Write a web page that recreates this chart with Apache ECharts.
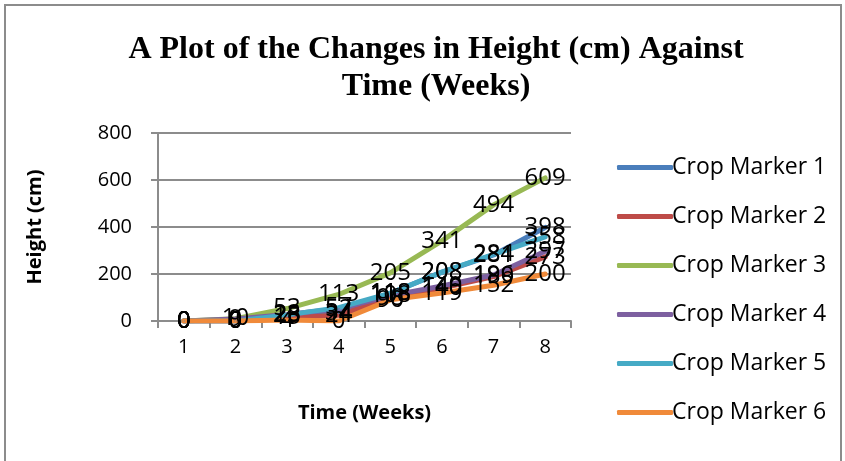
<!DOCTYPE html>
<html>
<head>
<meta charset="utf-8">
<script src="https://cdn.jsdelivr.net/npm/echarts@6/dist/echarts.min.js"></script>
<style>
  html, body { margin: 0; padding: 0; background: #fff; }
  #frame { position: absolute; left: 4px; top: 4px; width: 838px; height: 470px; border: 2px solid #8c8c8c; box-sizing: border-box; }
  #chart { position: absolute; left: 0; top: 0; width: 845px; height: 461px; }
</style>
</head>
<body>
<div id="frame"></div>
<div id="chart"></div>
<script>
// Weeks on the x axis
const weeks = ['1', '2', '3', '4', '5', '6', '7', '8'];

// Plant height (cm) per crop marker, week 1 to week 8
const crop1 = [0, 0, 23, 34, 118, 208, 281, 398];
const crop2 = [0, 0, 15, 24, 98, 140, 189, 273];
const crop3 = [0, 10, 53, 113, 205, 341, 494, 609];
const crop4 = [0, 9, 28, 52, 108, 149, 196, 297];
const crop5 = [0, 0, 26, 57, 118, 208, 284, 358];
const crop6 = [0, 0, 4, 0, 90, 119, 152, 200];

const seriesNames = ['Crop Marker 1', 'Crop Marker 2', 'Crop Marker 3', 'Crop Marker 4', 'Crop Marker 5', 'Crop Marker 6'];
const seriesData = [crop1, crop2, crop3, crop4, crop5, crop6];
const seriesColors = ['#4A7EBB', '#BE4B48', '#98B954', '#7D60A0', '#46AAC5', '#F08A3A'];

const chart = echarts.init(document.getElementById('chart'));

const series = seriesNames.map((name, i) => ({
  name: name,
  type: 'line',
  data: seriesData[i],
  showSymbol: true,
  symbol: 'circle',
  symbolSize: 2,
  lineStyle: { width: 5, color: seriesColors[i], cap: 'round' },
  itemStyle: { color: seriesColors[i], borderWidth: 0 },
  label: {
    show: true,
    position: 'inside',
    offset: [0, 2],
    color: '#000',
    fontFamily: 'Open Sans',
    fontSize: 24
  },
  labelLayout: { hideOverlap: false },
  emphasis: { disabled: true }
}));

chart.setOption({
  animation: false,
  title: {
    text: 'A Plot of the Changes in Height (cm) Against\nTime (Weeks)',
    left: 431,
    textAlign: 'center',
    top: 26,
    textStyle: {
      fontFamily: 'Liberation Serif',
      fontWeight: 'bold',
      fontSize: 32,
      lineHeight: 37,
      color: '#000'
    }
  },
  legend: {
    orient: 'vertical',
    left: 612,
    top: 151,
    itemWidth: 56,
    itemHeight: 5,
    itemGap: 26,
    icon: 'roundRect',
    textStyle: { fontFamily: 'Open Sans', fontSize: 23, color: '#000', padding: [0, 0, 0, -6] },
    data: seriesNames
  },
  grid: { left: 158, right: 274, top: 133, bottom: 140, containLabel: false },
  xAxis: {
    type: 'category',
    data: weeks,
    boundaryGap: true,
    name: 'Time (Weeks)',
    nameLocation: 'middle',
    nameGap: 82,
    nameTextStyle: { fontFamily: 'Open Sans', fontWeight: 'bold', fontSize: 20, color: '#000' },
    axisLine: { lineStyle: { color: '#8c8c8c', width: 2 } },
    axisTick: { show: true, length: 7, lineStyle: { color: '#8c8c8c', width: 2 } },
    axisLabel: { fontFamily: 'Open Sans', fontSize: 20, color: '#000', margin: 16 }
  },
  yAxis: {
    type: 'value',
    min: 0,
    max: 800,
    interval: 200,
    name: 'Height (cm)',
    nameLocation: 'middle',
    nameGap: 113,
    nameRotate: 90,
    nameTextStyle: { fontFamily: 'Open Sans', fontWeight: 'bold', fontSize: 20, color: '#000' },
    axisLine: { show: true, lineStyle: { color: '#8c8c8c', width: 2 } },
    axisTick: { show: true, length: 7, lineStyle: { color: '#8c8c8c', width: 2 } },
    axisLabel: { fontFamily: 'Open Sans', fontSize: 20, color: '#000', margin: 26 },
    splitLine: { lineStyle: { color: '#8c8c8c', width: 2 } }
  },
  series: series
});
</script>
</body>
</html>
